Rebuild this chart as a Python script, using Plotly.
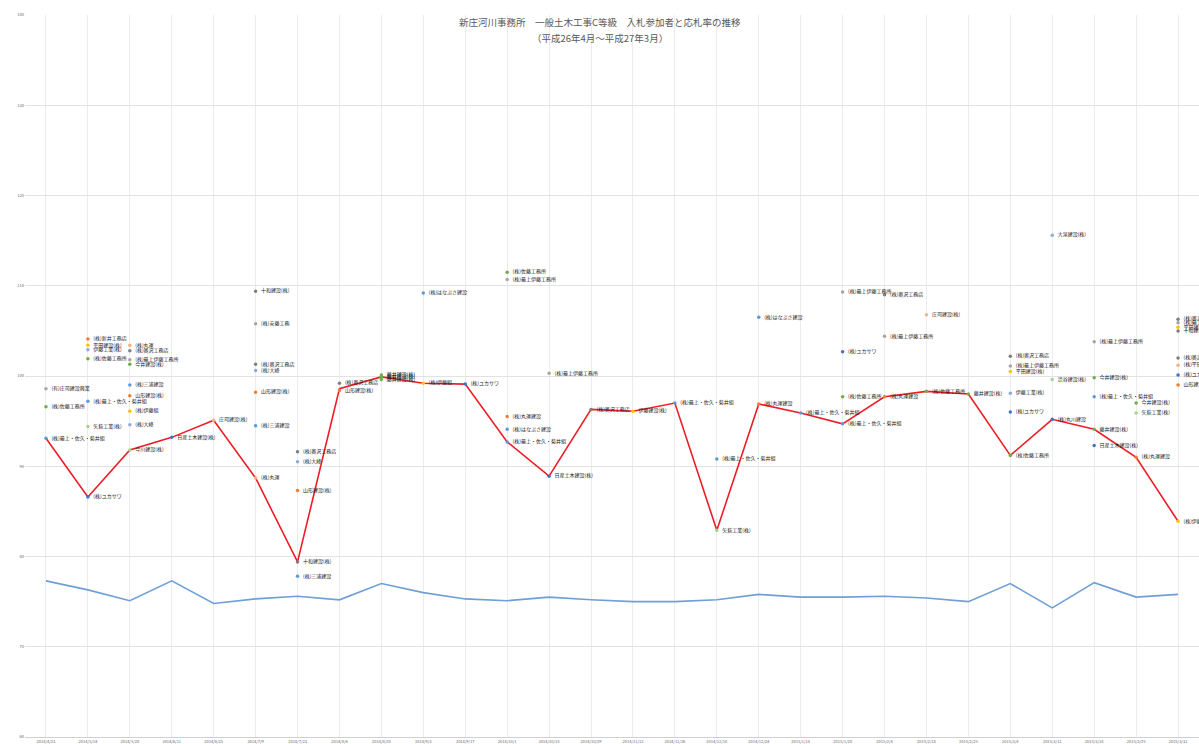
import plotly.graph_objects as go

# ---- data ----
dates = ["2014/4/23", "2014/5/14", "2014/5/28", "2014/6/11", "2014/6/25", "2014/7/9",
         "2014/7/23", "2014/8/6", "2014/8/20", "2014/9/3", "2014/9/17", "2014/10/1",
         "2014/10/15", "2014/10/29", "2014/11/12", "2014/11/26", "2014/12/10", "2014/12/24",
         "2015/1/14", "2015/1/28", "2015/2/4", "2015/2/18", "2015/2/25", "2015/3/4",
         "2015/3/11", "2015/3/18", "2015/3/25", "2015/3/31"]

winner_rate = [93.1, 86.6, 91.8, 93.2, 95.1, 88.7, 79.4, 98.6, 99.9, 99.2, 99.1, 92.7,
               88.9, 96.3, 96.1, 97.0, 82.9, 96.9, 95.9, 94.7, 97.7, 98.3, 98.0, 91.2,
               95.2, 94.1, 91.0, 83.9]

lower_limit = [77.3, 76.3, 75.1, 77.3, 74.8, 75.3, 75.6, 75.2, 77.0, 76.0, 75.3, 75.1,
               75.5, 75.2, 75.0, 75.0, 75.2, 75.8, 75.5, 75.5, 75.6, 75.4, 75.0, 77.0,
               74.3, 77.1, 75.5, 75.8]

bid_index = [0, 0, 0,
             1, 1, 1, 1, 1, 1, 1,
             2, 2, 2, 2, 2, 2, 2, 2, 2,
             3, 4,
             5, 5, 5, 5, 5, 5, 5,
             6, 6, 6, 6, 6,
             7, 7, 8, 8, 8,
             9, 9, 10,
             11, 11, 11, 11, 11,
             12, 12, 13, 14, 15, 16, 16, 17, 17, 18,
             19, 19, 19, 19, 20, 20, 20, 21, 21, 22,
             23, 23, 23, 23, 23, 23,
             24, 24, 24,
             25, 25, 25, 25, 25,
             26, 26, 26,
             27, 27, 27, 27, 27, 27, 27, 27, 27]

bid_name = ["(有)庄司建設興業", "(株)佐藤工務所", "(株)最上・佐久・菊井組",
            "(株)新井工務店", "平田建設(株)", "伊藤工業(株)", "(株)佐藤工務所", "(株)最上・佐久・菊井組", "矢萩工業(株)", "(株)ユカサワ",
            "(株)丸運", "(株)奥沢工務店", "(株)最上伊藤工務所", "今井建設(株)", "(株)三浦建設", "山形建設(株)", "(株)伊藤組", "(株)大峰", "今川建設(株)",
            "日産土木建設(株)", "庄司建設(株)",
            "十和建設(株)", "(株)安藤工務", "(株)奥沢工務店", "(株)大峰", "山形建設(株)", "(株)三浦建設", "(株)丸運",
            "(株)奥沢工務店", "(株)大峰", "山形建設(株)", "十和建設(株)", "(株)三浦建設",
            "(株)奥沢工務店", "山形建設(株)", "藤井建設(株)", "藤井建設(株)", "藤井建設(株)",
            "(株)はなぶさ建設", "(株)伊藤組", "(株)ユカサワ",
            "(株)佐藤工務所", "(株)最上伊藤工務所", "(株)丸運建設", "(株)はなぶさ建設", "(株)最上・佐久・菊井組",
            "(株)最上伊藤工務所", "日産土木建設(株)", "(株)奥沢工務店", "伊藤建設(株)", "(株)最上・佐久・菊井組",
            "(株)最上・佐久・菊井組", "矢萩工業(株)", "(株)はなぶさ建設", "(株)丸運建設", "(株)最上・佐久・菊井組",
            "(株)最上伊藤工務所", "(株)ユカサワ", "(株)佐藤工務所", "(株)最上・佐久・菊井組",
            "(株)奥沢工務店", "(株)最上伊藤工務所", "(株)丸運建設", "庄司建設(株)", "(株)佐藤工務所", "藤井建設(株)",
            "(株)奥沢工務店", "(株)最上伊藤工務所", "平田建設(株)", "伊藤工業(株)", "(株)ユカサワ", "(株)佐藤工務所",
            "大泉建設(株)", "渋谷建設(株)", "(株)丸川建設",
            "(株)最上伊藤工務所", "今井建設(株)", "(株)最上・佐久・菊井組", "藤井建設(株)", "日産土木建設(株)",
            "今井建設(株)", "矢萩工業(株)", "(株)丸運建設",
            "(株)奥沢工務店", "(株)最上伊藤工務所", "平田建設(株)", "十和建設(株)", "(株)奥沢工務店", "(株)平田工務", "(株)ユカサワ", "山形建設(株)", "(株)伊藤組"]

bid_rate = [98.6, 96.6, 93.1,
            104.1, 103.4, 102.9, 101.9, 97.2, 94.4, 86.6,
            103.4, 102.8, 101.8, 101.3, 99.0, 97.8, 96.1, 94.6, 91.8,
            93.2, 95.1,
            109.4, 105.8, 101.3, 100.6, 98.2, 94.5, 88.7,
            91.6, 90.5, 87.3, 79.4, 77.8,
            99.2, 98.4, 100.1, 99.9, 99.6,
            109.2, 99.2, 99.1,
            111.5, 110.7, 95.5, 94.1, 92.7,
            100.3, 88.9, 96.3, 96.1, 97.0,
            90.8, 82.9, 106.5, 96.9, 95.9,
            109.3, 102.7, 97.7, 94.7,
            109.0, 104.4, 97.7, 106.8, 98.3, 98.0,
            102.2, 101.1, 100.5, 98.1, 96.0, 91.2,
            115.6, 99.6, 95.2,
            103.8, 99.8, 97.7, 94.1, 92.3,
            97.0, 95.9, 91.0,
            106.3, 105.9, 105.4, 105.0, 102.0, 101.2, 100.1, 99.0, 83.9]

y_ticks = [60, 70, 80, 90, 100, 110, 120, 130, 140]

# ---- styling ----
palette = ["#a5a5a5", "#70ad47", "#5b9bd5", "#ed7d31", "#ffc000", "#8faadc",
           "#a9d18e", "#4472c4", "#f4b183", "#7f7f7f"]
companies = []
for n in bid_name:
    if n not in companies:
        companies.append(n)
bid_color = [palette[companies.index(n) % len(palette)] for n in bid_name]

font_family = "Noto Sans CJK JP"

fig = go.Figure()

fig.add_trace(go.Scatter(
    x=dates, y=lower_limit, mode="lines",
    line=dict(color="#6f9fd6", width=1.6), hoverinfo="skip", showlegend=False))

fig.add_trace(go.Scatter(
    x=dates, y=winner_rate, mode="lines",
    line=dict(color="#ee1c25", width=1.6), showlegend=False))

fig.add_trace(go.Scatter(
    x=[dates[i] for i in bid_index], y=bid_rate, mode="markers+text",
    text=["  " + n for n in bid_name], textposition="middle right",
    textfont=dict(size=5, color="#1a1a1a", family=font_family),
    marker=dict(size=3.5, color=bid_color), cliponaxis=False, showlegend=False))

title_lines = ["新庄河川事務所　一般土木工事C等級　入札参加者と応札率の推移",
               "（平成26年4月～平成27年3月）"]
for line, ypos in zip(title_lines, [0.9903, 0.968]):
    fig.add_annotation(
        x=0.49, y=ypos, xref="paper", yref="paper", xanchor="center", yanchor="middle",
        showarrow=False, text=line,
        font=dict(size=9.5, color="#595959", family=font_family))

fig.update_layout(
    width=1199, height=744,
    margin=dict(l=25, r=0, t=15, b=7),
    paper_bgcolor="white", plot_bgcolor="white",
    font=dict(family=font_family),
    xaxis=dict(type="category", range=[-0.5, len(dates) - 0.5], showgrid=True,
               gridcolor="#ececec", gridwidth=1, tickfont=dict(size=4, color="#666666"),
               showline=True, linecolor="#d0d0d0", ticks="", automargin=False),
    yaxis=dict(range=[60, 140], tickvals=y_ticks, ticksuffix="%", showgrid=True,
               gridcolor="#e2e2e2", gridwidth=1, tickfont=dict(size=4, color="#666666"),
               zeroline=False, ticks="", automargin=False),
)

fig.write_html("out.html")
